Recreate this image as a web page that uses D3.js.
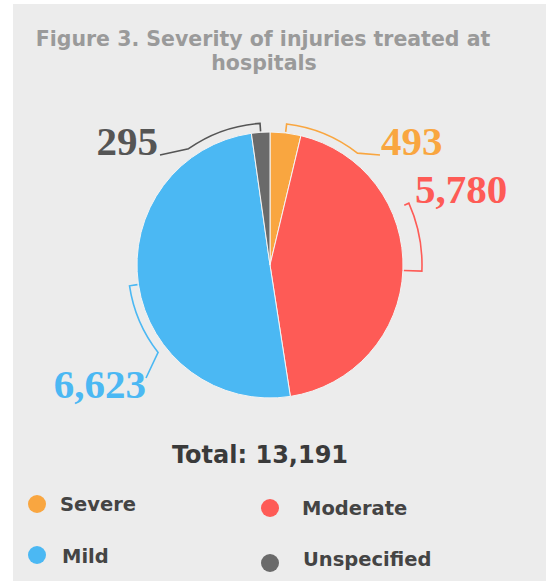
<!DOCTYPE html>
<html>
<head>
<meta charset="utf-8">
<script src="https://cdn.jsdelivr.net/npm/d3@7"></script>
<style>
  html, body { margin: 0; padding: 0; background: #ffffff; }
  svg { display: block; }
</style>
</head>
<body>
<svg id="chart" width="548" height="581"></svg>
<script>
// ---- data ----
const categories = ["Severe", "Moderate", "Mild", "Unspecified"];
const values = [493, 5780, 6623, 295];
const valueLabels = ["493", "5,780", "6,623", "295"];
const colors = ["#F9A640", "#FE5B56", "#4BB8F3", "#6A6A6A"];
const labelColors = ["#F9A640", "#FE5B56", "#4BB8F3", "#555555"];
const titleLines = ["Figure 3. Severity of injuries treated at", "hospitals"];
const totalText = "Total: 13,191";

// ---- layout ----
const W = 548, H = 581;
const svg = d3.select("#chart");
svg.append("rect").attr("x", 13).attr("y", 4).attr("width", 533).attr("height", H - 4).attr("fill", "#ECECEC");

const cx = 270, cy = 265, r = 133;

// title
const title = svg.append("text")
  .attr("font-family", "DejaVu Sans, Verdana, sans-serif")
  .attr("font-weight", "bold")
  .attr("font-size", 20.5)
  .attr("fill", "#9A9A9A")
  .attr("text-anchor", "middle");
title.append("tspan").attr("x", 263).attr("y", 46).text(titleLines[0]);
title.append("tspan").attr("x", 264).attr("y", 70).text(titleLines[1]);

// pie
const pie = d3.pie().sort(null).value(d => d)(values);
const arc = d3.arc().innerRadius(0).outerRadius(r);
const g = svg.append("g").attr("transform", `translate(${cx},${cy})`);
g.selectAll("path.slice").data(pie).join("path")
  .attr("class", "slice")
  .attr("d", arc)
  .attr("fill", (d, i) => colors[i])
  .attr("stroke", "#F4F4F4")
  .attr("stroke-width", 1);

// leader brackets (layout per label): bracket radius, end angle (deg), label anchor offset
const deg = Math.PI / 180;
const leaders = [
  { R: 142, end: 38,  tail: [110, -110], text: [111, -110], anchor: "start" },
  { R: 152, end: 66,  tail: null,         text: [145, -62],  anchor: "start", stub: 5 },
  { R: 142, end: 232, tail: [-124, 113], text: [-124, 133], anchor: "end" },
  { R: 142, end: 325, tail: [-110, -110], text: [-112, -110], anchor: "end" }
];
function pt(a, rr) { return [rr * Math.sin(a), -rr * Math.cos(a)]; }

pie.forEach((d, i) => {
  const L = leaders[i];
  const mid = (d.startAngle + d.endAngle) / 2;
  const endA = L.end * deg;
  const p = d3.path();
  const a0 = pt(mid, r + 1);
  p.moveTo(a0[0], a0[1]);
  const a1 = pt(mid, L.R);
  p.lineTo(a1[0], a1[1]);
  p.arc(0, 0, L.R, mid - Math.PI / 2, endA - Math.PI / 2, endA < mid);
  if (L.stub) {
    const s = pt(endA, L.R - L.stub);
    p.lineTo(s[0], s[1]);
  }
  if (L.tail) p.lineTo(L.tail[0], L.tail[1]);
  g.append("path")
    .attr("d", p.toString())
    .attr("fill", "none")
    .attr("stroke", labelColors[i])
    .attr("stroke-width", 1.6);
  g.append("text")
    .attr("x", L.text[0]).attr("y", L.text[1])
    .attr("text-anchor", L.anchor)
    .attr("font-family", "Liberation Serif, Times New Roman, serif")
    .attr("font-weight", "bold")
    .attr("font-size", 41)
    .attr("fill", labelColors[i])
    .text(valueLabels[i]);
});

// total
svg.append("text")
  .attr("x", 260).attr("y", 463)
  .attr("text-anchor", "middle")
  .attr("font-family", "DejaVu Sans, Verdana, sans-serif")
  .attr("font-weight", "bold")
  .attr("font-size", 24)
  .attr("fill", "#3A3A3A")
  .text(totalText);

// legend
const legendPos = [
  { cx: 37, cy: 504, tx: 60, ty: 511 },
  { cx: 270, cy: 508, tx: 302, ty: 515 },
  { cx: 37, cy: 555, tx: 62, ty: 563 },
  { cx: 270, cy: 563, tx: 303, ty: 566 }
];
const lg = svg.append("g");
categories.forEach((c, i) => {
  const P = legendPos[i];
  lg.append("circle").attr("cx", P.cx).attr("cy", P.cy).attr("r", 9).attr("fill", colors[i]);
  lg.append("text")
    .attr("x", P.tx).attr("y", P.ty)
    .attr("font-family", "DejaVu Sans, Verdana, sans-serif")
    .attr("font-weight", "bold")
    .attr("font-size", 19.5)
    .attr("fill", "#444444")
    .text(c);
});
</script>
</body>
</html>
